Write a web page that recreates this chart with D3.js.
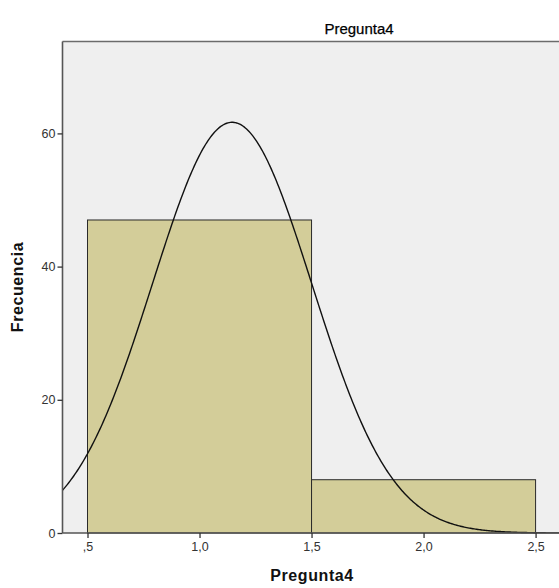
<!DOCTYPE html>
<html>
<head>
<meta charset="utf-8">
<script src="https://cdn.jsdelivr.net/npm/d3@7"></script>
<style>
  html, body { margin: 0; padding: 0; background: #ffffff; }
  svg { display: block; }
</style>
</head>
<body>
<svg id="chart" width="559" height="588"></svg>
<script>
// Histogram of Pregunta4 with fitted normal curve
const binStarts = [0.5, 1.5];
const binEnds = [1.5, 2.5];
const frequencies = [47, 8];
const xTicks = [0.5, 1.0, 1.5, 2.0, 2.5];
const xTickLabels = [",5", "1,0", "1,5", "2,0", "2,5"];
const yTicks = [0, 20, 40, 60];
const yTickLabels = ["0", "20", "40", "60"];

const plotLeft = 62.5, plotTop = 41.5, plotBottom = 533, plotRight = 560;
const fontFamily = "Liberation Sans, Arial, sans-serif";

const svg = d3.select("#chart");

const x = d3.scaleLinear().domain([0.3884, 2.609]).range([plotLeft, plotRight]);
const y = d3.scaleLinear().domain([0, 73.8]).range([plotBottom, plotTop]);

// plot background
svg.append("rect")
  .attr("x", plotLeft).attr("y", plotTop)
  .attr("width", plotRight - plotLeft).attr("height", plotBottom - plotTop)
  .attr("fill", "#efefef");

// bars
const bins = frequencies.map((f, i) => ({ x0: binStarts[i], x1: binEnds[i], f }));
svg.append("g").selectAll("rect").data(bins).join("rect")
  .attr("x", d => x(d.x0))
  .attr("y", d => y(d.f))
  .attr("width", d => x(d.x1) - x(d.x0))
  .attr("height", d => y(0) - y(d.f))
  .attr("fill", "#d3cd99")
  .attr("stroke", "#2a2a2a")
  .attr("stroke-width", 1);

// normal curve fitted to the binned data
const mids = bins.map(d => (d.x0 + d.x1) / 2);
const n = d3.sum(frequencies);
const mean = d3.sum(frequencies.map((f, i) => f * mids[i])) / n;
const sd = Math.sqrt(d3.sum(frequencies.map((f, i) => f * (mids[i] - mean) ** 2)) / (n - 1));
const binWidth = binEnds[0] - binStarts[0];
const density = v => n * binWidth / (sd * Math.sqrt(2 * Math.PI)) * Math.exp(-0.5 * ((v - mean) / sd) ** 2);
const [dx0, dx1] = x.domain();
const curvePts = d3.range(0, 401).map(i => dx0 + (dx1 - dx0) * i / 400);
svg.append("path")
  .datum(curvePts)
  .attr("d", d3.line().x(v => x(v)).y(v => y(density(v))))
  .attr("fill", "none")
  .attr("stroke", "#111")
  .attr("stroke-width", 1.4);

// frame lines (top + left) and x axis line
svg.append("line").attr("x1", plotLeft).attr("x2", plotRight).attr("y1", plotTop).attr("y2", plotTop)
  .attr("stroke", "#6b6b6b").attr("stroke-width", 1.6);
svg.append("line").attr("x1", plotLeft).attr("x2", plotLeft).attr("y1", plotTop).attr("y2", plotBottom)
  .attr("stroke", "#555").attr("stroke-width", 1.6);
svg.append("line").attr("x1", plotLeft).attr("x2", plotRight).attr("y1", plotBottom).attr("y2", plotBottom)
  .attr("stroke", "#555").attr("stroke-width", 1.6);

// y axis
const yAxis = d3.axisLeft(y).tickValues(yTicks)
  .tickFormat((d, i) => yTickLabels[i]).tickSize(5).tickPadding(2);
const gy = svg.append("g").attr("transform", `translate(${plotLeft},0)`).call(yAxis);
gy.select(".domain").remove();
gy.selectAll("line").attr("stroke", "#333").attr("stroke-width", 1.3);
gy.selectAll("text").attr("font-family", fontFamily)
  .attr("font-size", 12.5).attr("fill", "#333");

// x axis
const xAxis = d3.axisBottom(x).tickValues(xTicks)
  .tickFormat((d, i) => xTickLabels[i]).tickSize(5).tickPadding(4);
const gx = svg.append("g").attr("transform", `translate(0,${plotBottom})`).call(xAxis);
gx.select(".domain").remove();
gx.selectAll("line").attr("stroke", "#333").attr("stroke-width", 1.3);
gx.selectAll("text").attr("font-family", fontFamily)
  .attr("font-size", 12.5).attr("fill", "#333");

// titles
svg.append("text")
  .attr("x", 359).attr("y", 34)
  .attr("text-anchor", "middle")
  .attr("font-family", fontFamily)
  .attr("font-size", 15).attr("fill", "#000")
  .attr("stroke", "#000").attr("stroke-width", 0.25)
  .text("Pregunta4");

svg.append("text")
  .attr("x", 312).attr("y", 581)
  .attr("text-anchor", "middle")
  .attr("font-family", fontFamily)
  .attr("font-size", 16).attr("font-weight", "bold").attr("fill", "#111")
  .attr("letter-spacing", 0.6)
  .text("Pregunta4");

svg.append("text")
  .attr("transform", `translate(23,287) rotate(-90)`)
  .attr("text-anchor", "middle")
  .attr("font-family", fontFamily)
  .attr("font-size", 16).attr("font-weight", "bold").attr("fill", "#111")
  .attr("letter-spacing", 0.6)
  .text("Frecuencia");
</script>
</body>
</html>
